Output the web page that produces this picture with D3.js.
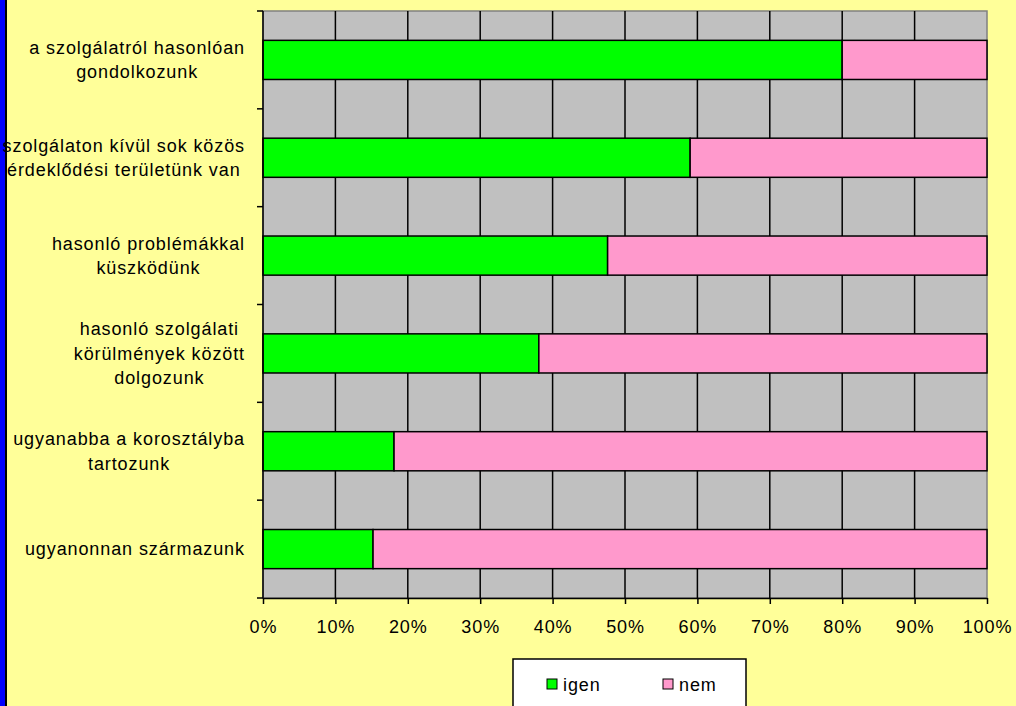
<!DOCTYPE html>
<html>
<head>
<meta charset="utf-8">
<script src="https://cdn.jsdelivr.net/npm/d3@7"></script>
<style>
  html, body { margin: 0; padding: 0; background: #FFFF99; }
  svg { display: block; }
  text { font-family: "Liberation Sans", Arial, sans-serif; fill: #000; }
</style>
</head>
<body>
<svg id="chart" width="1016" height="706"></svg>
<script>
// categories, top to bottom; each entry is the label split into lines
const categories = [
    ["a szolgálatról hasonlóan", "gondolkozunk"],
    ["szolgálaton kívül sok közös", "érdeklődési területünk van"],
    ["hasonló problémákkal", "küszködünk"],
    ["hasonló szolgálati", "körülmények között", "dolgozunk"],
    ["ugyanabba a korosztályba", "tartozunk"],
    ["ugyanonnan származunk"]
];
const igen = [80, 59, 47.6, 38.1, 18.1, 15.2];
const nem = [20, 41, 52.4, 61.9, 81.9, 84.8];
const seriesNames = ["igen", "nem"];
const seriesColors = ["#00FF00", "#FF99CC"];
const xTicks = [0, 10, 20, 30, 40, 50, 60, 70, 80, 90, 100];

const fontSize = 18;
const spacing = 0.9;

const svg = d3.select("#chart");

// blue strip on the left edge
svg.append("rect").attr("x", 0).attr("y", 0).attr("width", 5).attr("height", 706).attr("fill", "#0000FF");
svg.append("rect").attr("x", 5).attr("y", 0).attr("width", 2).attr("height", 706).attr("fill", "#000");

const plot = {left: 263, right: 987, top: 11, bottom: 598};

const x = d3.scaleLinear()
    .domain([0, 100])
    .range([plot.left, plot.right]);
const y = d3.scaleBand()
    .domain(d3.range(categories.length))
    .range([plot.top, plot.bottom])
    .paddingInner(0.6)
    .paddingOuter(0.3);
const band = (plot.bottom - plot.top) / categories.length;

// plot area
svg.append("rect")
    .attr("x", plot.left).attr("y", plot.top)
    .attr("width", plot.right - plot.left).attr("height", plot.bottom - plot.top)
    .attr("fill", "#C0C0C0")
    .attr("stroke", "#808080")
    .attr("stroke-width", 1.5);

// vertical gridlines
svg.append("g")
    .selectAll("line")
    .data(xTicks.slice(1, -1))
    .join("line")
    .attr("x1", d => x(d)).attr("x2", d => x(d))
    .attr("y1", plot.top).attr("y2", plot.bottom)
    .attr("stroke", "#000")
    .attr("stroke-width", 1.5);

// stacked bars
const stacked = categories.map((c, i) => [
    {s: 0, x0: 0, x1: igen[i], i},
    {s: 1, x0: igen[i], x1: igen[i] + nem[i], i}
]).flat();

svg.append("g")
    .selectAll("rect")
    .data(stacked)
    .join("rect")
    .attr("x", d => x(d.x0))
    .attr("y", d => y(d.i))
    .attr("width", d => x(d.x1) - x(d.x0))
    .attr("height", y.bandwidth())
    .attr("fill", d => seriesColors[d.s])
    .attr("stroke", "#000")
    .attr("stroke-width", 1.5);

// left axis line with ticks between categories
const yAxis = svg.append("g").attr("stroke", "#000").attr("stroke-width", 1.5);
yAxis.append("line")
    .attr("x1", plot.left).attr("x2", plot.left)
    .attr("y1", plot.top).attr("y2", plot.bottom);
yAxis.selectAll(".ytick")
    .data(d3.range(categories.length + 1))
    .join("line")
    .attr("class", "ytick")
    .attr("x1", plot.left - 6).attr("x2", plot.left)
    .attr("y1", d => plot.top + d * band).attr("y2", d => plot.top + d * band);

// bottom axis
const xAxis = svg.append("g")
    .attr("transform", `translate(0,${plot.bottom})`)
    .call(d3.axisBottom(x).tickValues(xTicks).tickFormat(d => d + "%").tickSize(6).tickSizeOuter(0));
xAxis.select(".domain").attr("stroke", "#000").attr("stroke-width", 1.5);
xAxis.selectAll(".tick line").attr("stroke", "#000").attr("stroke-width", 1.5);
xAxis.selectAll(".tick text")
    .attr("y", 29)
    .attr("dy", "0.35em")
    .attr("font-size", fontSize)
    .attr("letter-spacing", spacing)
    .attr("font-family", "Liberation Sans, Arial, sans-serif");

// category labels, centered lines, block right-aligned near the axis
const labelRight = 245;
const lineH = 24.5;
const labels = svg.append("g").attr("font-size", fontSize).attr("letter-spacing", spacing);
categories.forEach((lines, i) => {
    const t = labels.append("text").attr("text-anchor", "middle");
    const cy = plot.top + (i + 0.5) * band;
    lines.forEach((ln, k) => {
        t.append("tspan")
            .attr("x", 0)
            .attr("y", cy + (k - (lines.length - 1) / 2) * lineH)
            .attr("dy", "0.35em")
            .text(ln);
    });
    const w = t.node().getBBox().width;
    t.selectAll("tspan").attr("x", labelRight - w / 2);
});

// legend
const legend = svg.append("g");
legend.append("rect")
    .attr("x", 513).attr("y", 659).attr("width", 233).attr("height", 60)
    .attr("fill", "#fff").attr("stroke", "#000").attr("stroke-width", 1.5);
const legendX = [547, 663];
seriesNames.forEach((s, i) => {
    legend.append("rect")
        .attr("x", legendX[i]).attr("y", 679).attr("width", 10).attr("height", 10)
        .attr("fill", seriesColors[i]).attr("stroke", "#000").attr("stroke-width", 1);
    legend.append("text")
        .attr("x", legendX[i] + 16).attr("y", 685).attr("dy", "0.35em")
        .attr("font-size", fontSize)
        .attr("letter-spacing", spacing)
        .text(s);
});
</script>
</body>
</html>
